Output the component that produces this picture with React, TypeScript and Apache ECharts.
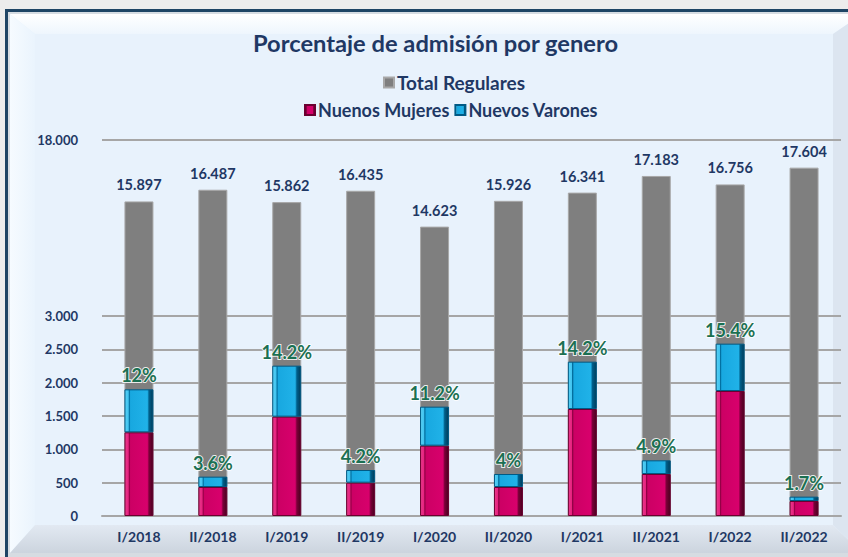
import React, { useEffect, useRef } from "react";
import * as echarts from "echarts";

const CATEGORIES = ["I/2018", "II/2018", "I/2019", "II/2019", "I/2020", "II/2020", "I/2021", "II/2021", "I/2022", "II/2022"];
const TOTAL_REGULARES = [15897, 16487, 15862, 16435, 14623, 15926, 16341, 17183, 16756, 17604];
const NUEVOS_MUJERES = [1255, 435, 1490, 500, 1055, 435, 1605, 630, 1875, 225];
const NUEVOS_VARONES = [645, 155, 765, 190, 585, 195, 710, 205, 710, 65];
const PCT_LABELS = ["12%", "3.6%", "14.2%", "4.2%", "11.2%", "4%", "14.2%", "4.9%", "15.4%", "1.7%"];
const LOW_AXIS_LAST_TICK = 3000;
const LOW_AXIS_STEP = 500;
const LOW_AXIS_MAX = 5640;
const TOP_TICK_LABEL = "18.000";
const TOTAL_AXIS_MAX = 19000;

const NAVY = "#1F3864";
const FONT = "Lato, 'Noto Sans', sans-serif";

const fmt = (v: number) => String(Math.round(v)).replace(/\B(?=(\d{3})+(?!\d))/g, ".");

export default function App() {
  const ref = useRef<HTMLDivElement>(null);
  useEffect(() => {
    if (!ref.current) return;
    const chart = echarts.init(ref.current, undefined, { renderer: "svg" });
    const lowTickCount = Math.floor(LOW_AXIS_MAX / LOW_AXIS_STEP) + 2;
    const splitColors: string[] = [];
    for (let i = 0; i < lowTickCount; i++) {
      const v = i * LOW_AXIS_STEP;
      splitColors.push(v <= LOW_AXIS_LAST_TICK || i === lowTickCount - 1 ? "#A6A6A6" : "rgba(0,0,0,0)");
    }
    const grad = (stops: [number, string][]) => ({
      type: "linear", x: 0, y: 0, x2: 1, y2: 0,
      colorStops: stops.map(([offset, color]) => ({ offset, color })),
    });
    const pink = grad([[0, "#E63C8C"], [0.12, "#E8207F"], [0.15, "#8E0042"], [0.2, "#CC0064"], [0.8, "#D8006C"], [0.86, "#7A0038"], [1, "#4A001E"]]);
    const blue = grad([[0, "#5AD0F4"], [0.12, "#40C4F0"], [0.15, "#006A9A"], [0.2, "#18A8E0"], [0.8, "#20B2E8"], [0.86, "#005F8A"], [1, "#003C5A"]]);

    const legendText = { fontFamily: FONT, fontSize: 18, fontWeight: "bold", color: NAVY, padding: [0, 0, 0, -2] };

    const option: any = {
      animation: false,
      backgroundColor: "#ECECEC",
      graphic: [
        { type: "rect", z: -10, shape: { x: 5, y: 9, width: 870, height: 560 }, style: { fill: "#1E4464" } },
        { type: "rect", z: -10, shape: { x: 8, y: 12, width: 870, height: 560 }, style: { fill: "#D6DCE2" } },
        { type: "rect", z: -10, shape: { x: 10, y: 14, width: 870, height: 539 }, style: { fill: "#E8F2FC" } },
        {
          type: "polygon", z: -9,
          shape: { points: [[10, 14], [862, 14], [833, 34], [35, 34]] },
          style: { fill: { type: "linear", x: 0, y: 0, x2: 0, y2: 1, colorStops: [{ offset: 0, color: "#FFFFFF" }, { offset: 1, color: "#EEF6FD" }] } },
        },
        {
          type: "polygon", z: -9,
          shape: { points: [[10, 14], [35, 34], [35, 525], [10, 553]] },
          style: { fill: { type: "linear", x: 0, y: 0, x2: 1, y2: 0, colorStops: [{ offset: 0, color: "#F6FBFF" }, { offset: 1, color: "#EAF4FD" }] } },
        },
        {
          type: "polygon", z: -9,
          shape: { points: [[10, 553], [35, 525], [833, 525], [862, 553]] },
          style: { fill: { type: "linear", x: 0, y: 0, x2: 0, y2: 1, colorStops: [{ offset: 0, color: "#E2E9F2" }, { offset: 1, color: "#CCD4DE" }] } },
        },
        {
          type: "polygon", z: -9,
          shape: { points: [[862, 14], [862, 553], [833, 525], [833, 34]] },
          style: { fill: "#DCE5F0" },
        },
      ],
      title: {
        text: "Porcentaje de admisión por genero",
        left: 248,
        top: 26,
        textStyle: { fontFamily: FONT, fontSize: 23.7, fontWeight: "bold", color: NAVY },
      },
      legend: [
        {
          data: ["Total Regulares"],
          left: 383,
          top: 73,
          padding: 0,
          icon: "rect",
          itemWidth: 10,
          itemHeight: 10,
          textStyle: { ...legendText, fontSize: 19 },
        },
        {
          data: ["Nuenos Mujeres", "Nuevos Varones"],
          left: 304,
          top: 101,
          padding: 0,
          icon: "rect",
          itemWidth: 10,
          itemHeight: 10,
          itemGap: 5,
          textStyle: legendText,
        },
      ],
      grid: { left: 102, right: 7, top: 140, bottom: 41, containLabel: false },
      xAxis: {
        type: "category",
        data: CATEGORIES,
        axisTick: { show: false },
        axisLine: { lineStyle: { color: "#A6A6A6", width: 2 } },
        axisLabel: { fontFamily: FONT, fontSize: 14, fontWeight: "bold", color: NAVY, margin: 13 },
      },
      yAxis: [
        {
          type: "value",
          min: 0,
          max: LOW_AXIS_MAX,
          interval: LOW_AXIS_STEP,
          axisLine: { show: false },
          axisTick: { show: false },
          splitLine: { show: true, lineStyle: { color: splitColors, width: 2 } },
          axisLabel: {
            fontFamily: FONT,
            fontSize: 13,
            fontWeight: "bold",
            color: NAVY,
            margin: 24,
            formatter: (v: number) =>
              v <= LOW_AXIS_LAST_TICK ? fmt(v) : v === LOW_AXIS_MAX ? TOP_TICK_LABEL : "",
          },
        },
        {
          type: "value",
          min: 0,
          max: TOTAL_AXIS_MAX,
          show: false,
          splitLine: { show: false },
        },
      ],
      series: [
        {
          name: "Total Regulares",
          type: "bar",
          yAxisIndex: 1,
          data: TOTAL_REGULARES,
          barWidth: 29,
          barGap: "-100%",
          itemStyle: { color: "#7F7F7F", borderColor: "#A8A8A8", borderWidth: 1 },
          label: {
            show: true,
            position: "top",
            distance: 9,
            formatter: (p: any) => fmt(p.value),
            fontFamily: FONT,
            fontSize: 14.5,
            fontWeight: "bold",
            color: NAVY,
          },
        },
        {
          name: "Nuenos Mujeres",
          type: "bar",
          yAxisIndex: 0,
          stack: "nuevos",
          data: NUEVOS_MUJERES,
          barWidth: 29,
          barGap: "-100%",
          itemStyle: { color: pink, borderColor: "#6A0030", borderWidth: 1 },
        },
        {
          name: "Nuevos Varones",
          type: "bar",
          yAxisIndex: 0,
          stack: "nuevos",
          data: NUEVOS_VARONES,
          barWidth: 29,
          barGap: "-100%",
          itemStyle: { color: blue, borderColor: "#005A85", borderWidth: 1 },
          label: {
            show: true,
            position: "top",
            distance: 5,
            formatter: (p: any) => PCT_LABELS[p.dataIndex],
            fontFamily: FONT,
            fontSize: 18,
            fontWeight: "bold",
            color: "#1B7052",
            textBorderColor: "rgba(255,255,255,0.85)",
            textBorderWidth: 2,
          },
        },
      ],
    };
    chart.setOption(option);
    return () => chart.dispose();
  }, []);
  return <div ref={ref} style={{ position: "fixed", left: 0, top: 0, width: 848, height: 557 }} />;
}
